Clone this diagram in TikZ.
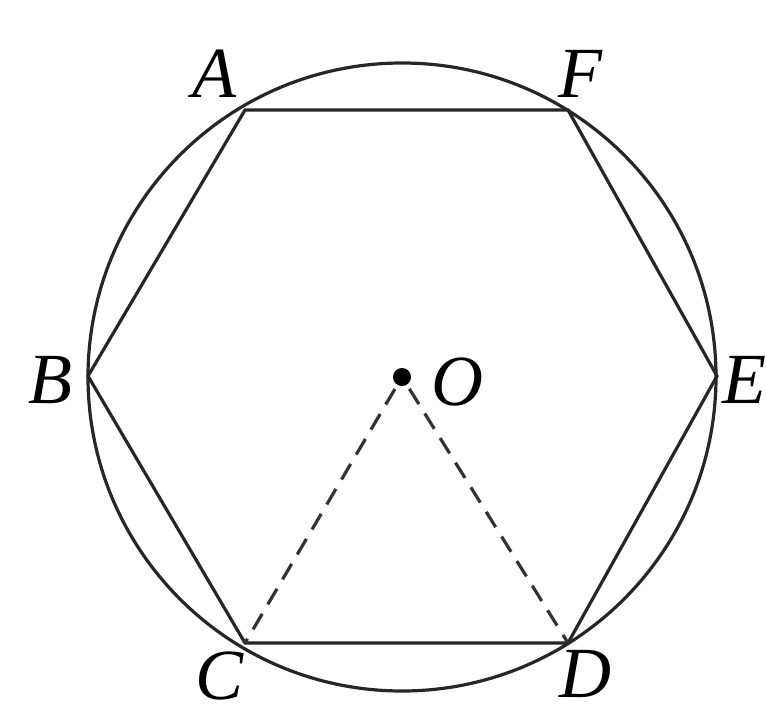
\documentclass[tikz,border=0pt]{standalone}
\usepackage{fontspec}
\setmainfont{Liberation Serif}
\begin{document}
\begin{tikzpicture}[x=1pt,y=-1pt,
  edge/.style={line width=3.2pt,black!85},
  dashedge/.style={line width=3.2pt,black!80,dash pattern=on 18pt off 11pt,shorten <=14pt},
  lbl/.style={font=\fontsize{72}{72}\selectfont\itshape,inner sep=0pt}]
\useasboundingbox (0,0) rectangle (766,710);
\coordinate (O) at (402,377);
\coordinate (A) at (245,110);
\coordinate (F) at (568,110);
\coordinate (B) at (88,376);
\coordinate (E) at (717,376);
\coordinate (C) at (245,643);
\coordinate (D) at (568,643);
\draw[edge] (O) circle[radius=314];
\draw[edge] (A) -- (F) -- (E) -- (D) -- (C) -- (B) -- cycle;
\draw[dashedge] (O) -- (C);
\draw[dashedge] (O) -- (D);
\fill[black] (O) circle[radius=9];
\node[lbl] (lA) at (214,74) {A};
\node[lbl] (lF) at (580,74) {F};
\node[lbl] (lB) at (50,380) {B};
\node[lbl] (lE) at (744,380) {E};
\node[lbl] (lC) at (220,676) {C};
\node[lbl] (lD) at (585,674) {D};
\node[lbl] (lO) at (457,382) {O};
\end{tikzpicture}
\end{document}
